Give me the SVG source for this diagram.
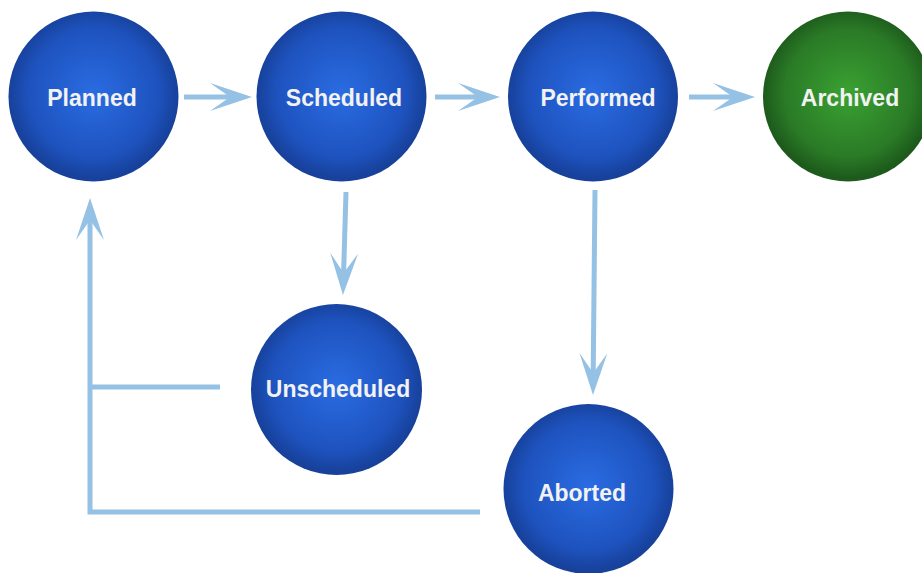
<svg xmlns="http://www.w3.org/2000/svg" width="922" height="573" viewBox="0 0 922 573">
<style>
.lbl{font-family:"Liberation Sans",Arial,sans-serif;font-weight:bold;font-size:23px;fill:#f2f2f2;text-anchor:middle}
.con{fill:none;stroke:#95c1e4;stroke-width:5}
</style>
<defs>
<radialGradient id="gBlue" cx="50%" cy="48%" r="50%">
<stop offset="0" stop-color="#2a6ce2"/>
<stop offset="0.75" stop-color="#1e53bf"/>
<stop offset="1" stop-color="#17419b"/>
</radialGradient>
<radialGradient id="gGreen" cx="50%" cy="48%" r="50%">
<stop offset="0" stop-color="#3aa232"/>
<stop offset="0.75" stop-color="#2a7a26"/>
<stop offset="1" stop-color="#1d5a1c"/>
</radialGradient>
<marker id="ah" markerUnits="userSpaceOnUse" viewBox="0 0 42 28" refX="20" refY="14" markerWidth="42" markerHeight="28" orient="auto">
<path d="M0,0 L42,14 L0,28 L20,14 Z" fill="#95c1e4"/>
</marker>
</defs>
<g id="connectors">
<line class="con" x1="184" y1="97" x2="230" y2="97" marker-end="url(#ah)"/>
<line class="con" x1="435" y1="97" x2="478" y2="97" marker-end="url(#ah)"/>
<line class="con" x1="689" y1="97" x2="733" y2="97" marker-end="url(#ah)"/>
<line class="con" x1="346" y1="192" x2="343.6" y2="273" marker-end="url(#ah)"/>
<line class="con" x1="595" y1="190" x2="593.2" y2="373" marker-end="url(#ah)"/>
<line class="con" x1="220" y1="387" x2="90" y2="387"/>
<polyline class="con" points="480,512 90,512 90,220" marker-end="url(#ah)"/>
</g>
<g id="planned">
<circle cx="93.5" cy="96.5" r="85" fill="url(#gBlue)"/>
<text class="lbl" x="92" y="106">Planned</text>
</g>
<g id="scheduled">
<circle cx="341.5" cy="96.5" r="85" fill="url(#gBlue)"/>
<text class="lbl" x="344" y="106">Scheduled</text>
</g>
<g id="performed">
<circle cx="593" cy="96.5" r="85" fill="url(#gBlue)"/>
<text class="lbl" x="598" y="106">Performed</text>
</g>
<g id="archived">
<circle cx="848" cy="96.5" r="85" fill="url(#gGreen)"/>
<text class="lbl" x="850" y="106">Archived</text>
</g>
<g id="unscheduled">
<circle cx="336.5" cy="389.5" r="85.5" fill="url(#gBlue)"/>
<text class="lbl" x="338" y="397">Unscheduled</text>
</g>
<g id="aborted">
<circle cx="588.5" cy="489" r="85" fill="url(#gBlue)"/>
<text class="lbl" x="582" y="501">Aborted</text>
</g>
</svg>
